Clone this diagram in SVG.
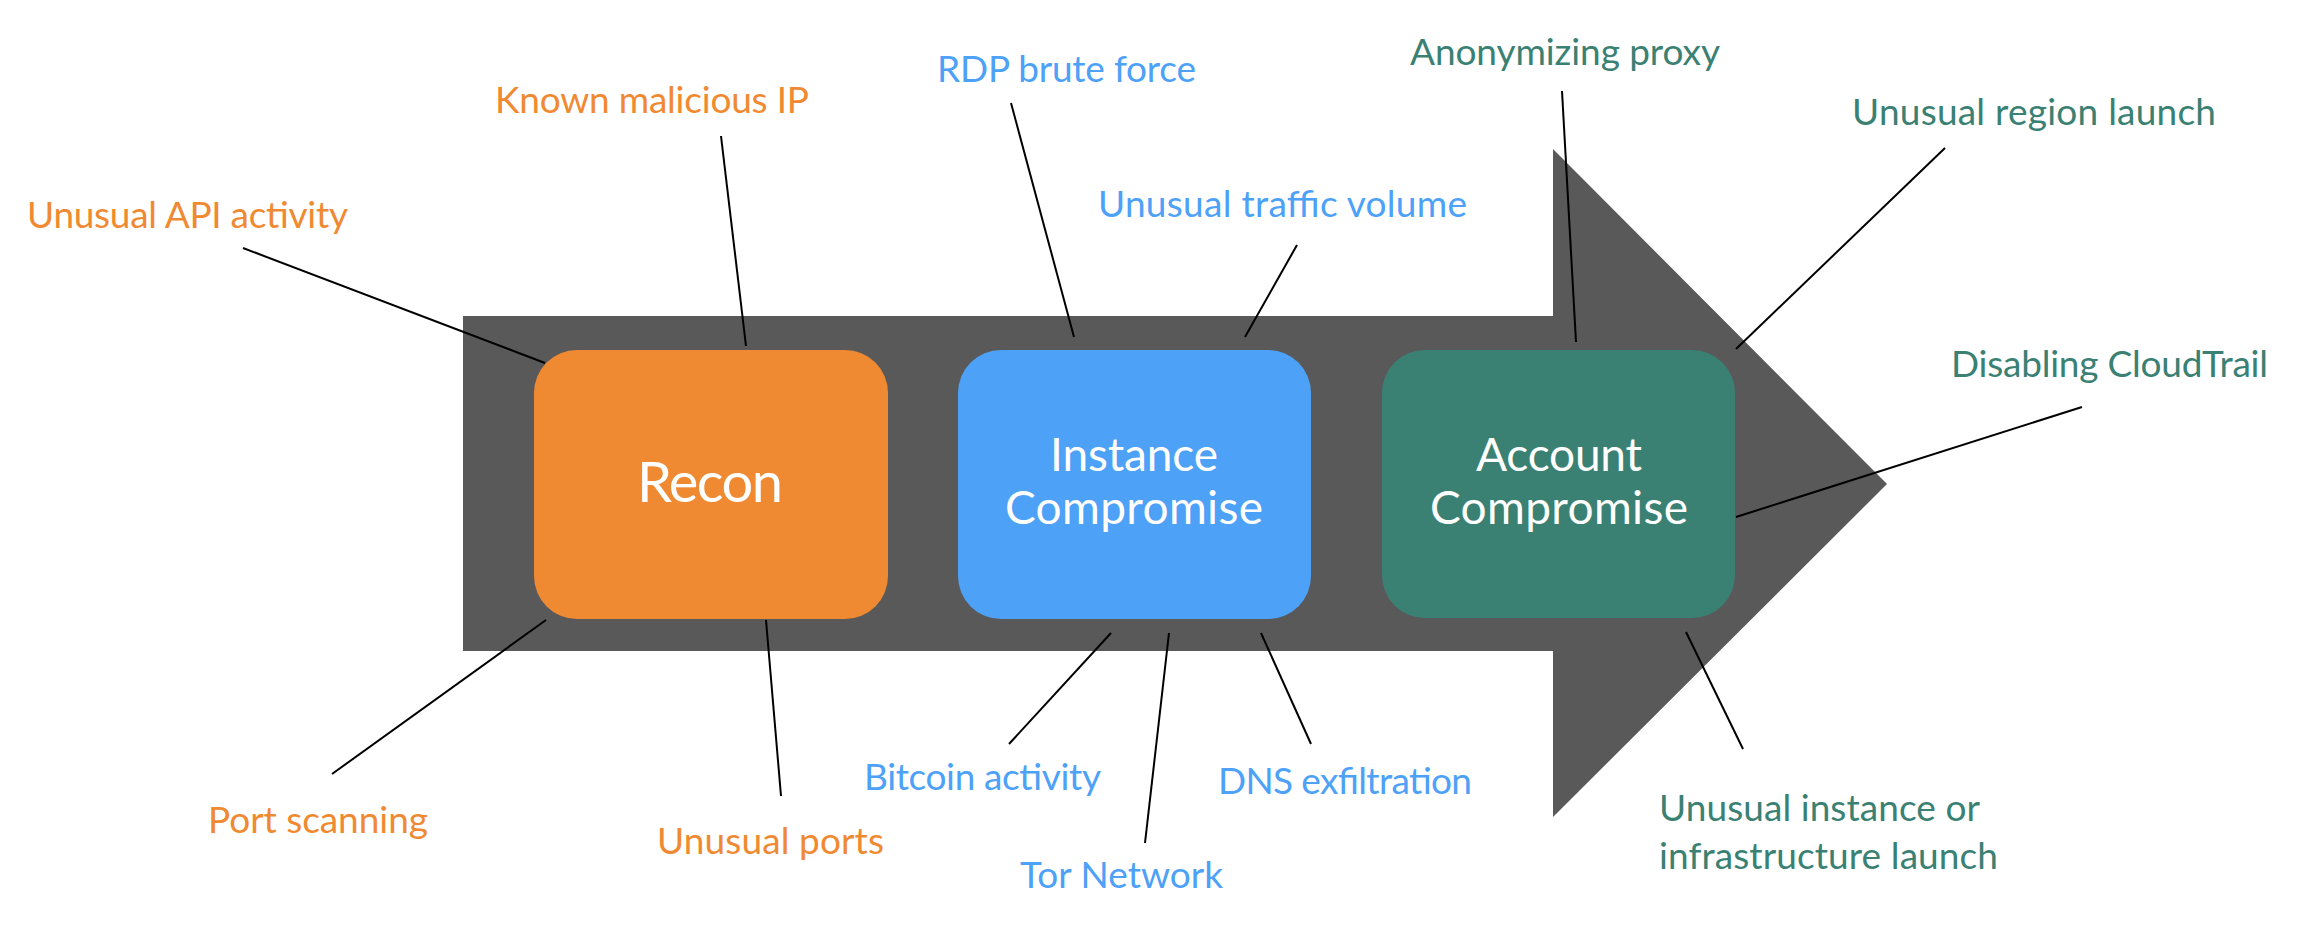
<svg xmlns="http://www.w3.org/2000/svg" width="2298" height="925" viewBox="0 0 2298 925">
<style>
.lbl{font-family:Lato,"Open Sans","Liberation Sans",sans-serif;font-size:37px;text-anchor:middle}
.org{fill:#F08A32}.blu{fill:#4DA1F7}.grn{fill:#3A8174}
.box{font-family:Lato,"Open Sans","Liberation Sans",sans-serif;fill:#FFFFFF;text-anchor:middle}
.ln{stroke:#000;stroke-width:2;fill:none}
</style>
<rect width="2298" height="925" fill="#FFFFFF"/>
<polygon id="arrow" points="463,316 1553,316 1553,149 1887,484 1553,817 1553,651 463,651" fill="#595959"/>
<g id="recon">
<rect x="534" y="350" width="354" height="269" rx="43" ry="43" fill="#F08A32"/>
<text class="box" x="710" y="502" font-size="56" textLength="146">Recon</text>
</g>
<g id="instance">
<rect x="958" y="350" width="353" height="269" rx="43" ry="43" fill="#4DA1F7"/>
<text class="box" x="1134" y="471" font-size="46" textLength="168">Instance</text>
<text class="box" x="1134" y="524" font-size="46" textLength="258">Compromise</text>
</g>
<g id="account">
<rect x="1382" y="350" width="353" height="268" rx="43" ry="43" fill="#3A8174"/>
<text class="box" x="1559" y="471" font-size="46" textLength="166">Account</text>
<text class="box" x="1559" y="524" font-size="46" textLength="258">Compromise</text>
</g>
<g id="connectors">
<line class="ln" x1="243" y1="248" x2="545" y2="363"/>
<line class="ln" x1="721" y1="136" x2="746" y2="346"/>
<line class="ln" x1="1011" y1="103" x2="1074" y2="337"/>
<line class="ln" x1="1297" y1="245" x2="1245" y2="337"/>
<line class="ln" x1="1562" y1="91" x2="1576" y2="342"/>
<line class="ln" x1="1945" y1="148" x2="1736" y2="349"/>
<line class="ln" x1="2082" y1="407" x2="1736" y2="517"/>
<line class="ln" x1="546" y1="620" x2="332" y2="774"/>
<line class="ln" x1="766" y1="620" x2="781" y2="796"/>
<line class="ln" x1="1111" y1="633" x2="1009" y2="744"/>
<line class="ln" x1="1169" y1="633" x2="1145" y2="843"/>
<line class="ln" x1="1261" y1="633" x2="1311" y2="744"/>
<line class="ln" x1="1686" y1="632" x2="1743" y2="749"/>
</g>
<g id="labels">
<text id="l-api" class="lbl org" x="187.5" y="228" textLength="321">Unusual API activity</text>
<text id="l-ip" class="lbl org" x="652" y="113" textLength="314">Known malicious IP</text>
<text id="l-rdp" class="lbl blu" x="1066.5" y="82" textLength="259">RDP brute force</text>
<text id="l-traffic" class="lbl blu" x="1282.5" y="217" textLength="369">Unusual traffic volume</text>
<text id="l-proxy" class="lbl grn" x="1565" y="65" textLength="310">Anonymizing proxy</text>
<text id="l-region" class="lbl grn" x="2034" y="125" textLength="364">Unusual region launch</text>
<text id="l-cloudtrail" class="lbl grn" x="2109.5" y="377" textLength="317">Disabling CloudTrail</text>
<text id="l-port" class="lbl org" x="318" y="833" textLength="220">Port scanning</text>
<text id="l-ports" class="lbl org" x="770.5" y="854" textLength="227">Unusual ports</text>
<text id="l-bitcoin" class="lbl blu" x="982.5" y="790" textLength="237">Bitcoin activity</text>
<text id="l-dns" class="lbl blu" x="1345" y="794" textLength="254">DNS exfiltration</text>
<text id="l-tor" class="lbl blu" x="1121.5" y="888" textLength="203">Tor Network</text>
<text id="l-launch1" class="lbl grn" x="1659" y="821" style="text-anchor:start" textLength="321">Unusual instance or</text>
<text id="l-launch2" class="lbl grn" x="1659" y="869" style="text-anchor:start" textLength="339">infrastructure launch</text>
</g>
</svg>
